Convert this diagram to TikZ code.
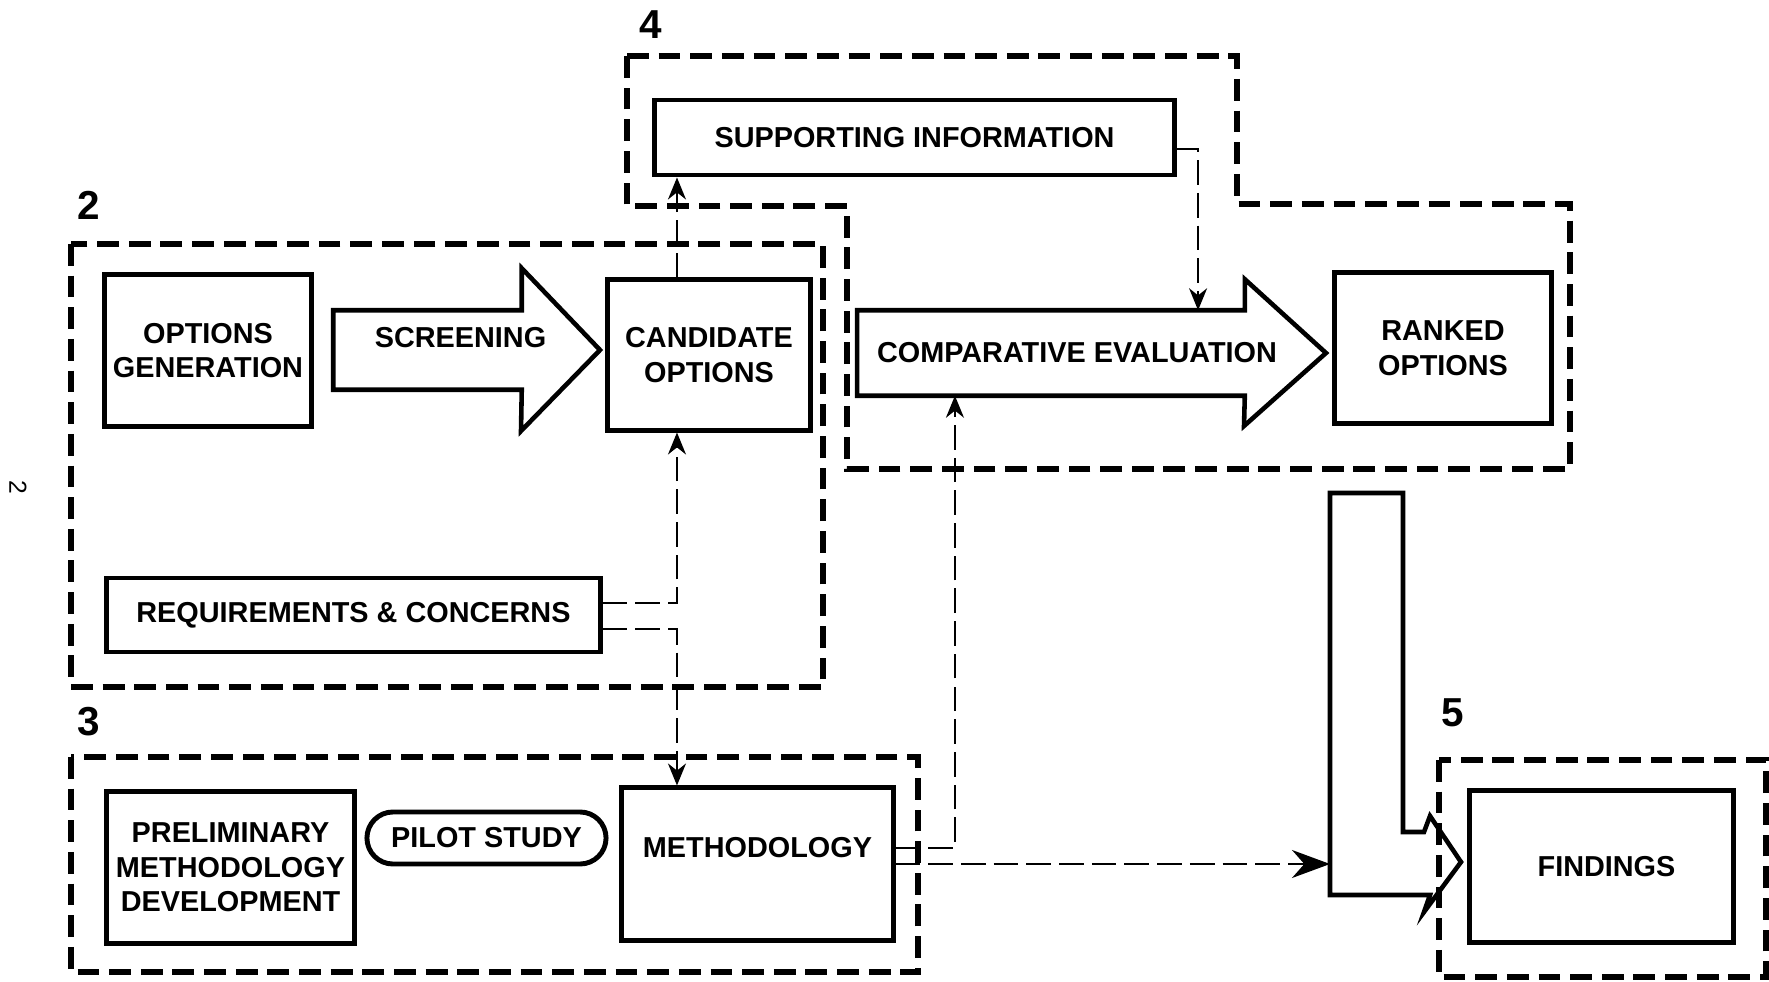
\documentclass[tikz,border=0pt]{standalone}
\usepackage{fontspec}
\setmainfont{Liberation Sans}
\usepackage{tikz}
\usetikzlibrary{arrows.meta}
\newcommand{\lblfont}{\bfseries\fontsize{8.2}{9.8}\selectfont}

\begin{document}
\begin{tikzpicture}[x=0.01cm, y=-0.01cm,
		box/.style={draw, line width=1.4pt, inner sep=0pt, align=center, font=\lblfont},
		body/.style={inner sep=0pt},
		outl/.style={line width=1.3pt, line join=miter},
		grp/.style={line width=1.7pt, dash pattern=on 6.2pt off 2.8pt},
		conn/.style={line width=0.6pt, dash pattern=on 7pt off 2.3pt, -{Stealth[length=2.2mm, width=1.8mm]}},
		num/.style={font=\bfseries\fontsize{11.5}{11.5}\selectfont},
		every label/.style={font=\lblfont}]
	\useasboundingbox (0,0) rectangle (1769,982);
	
	% 分组虚线框
	\draw[grp] (71,244) rectangle (823,687);
	\draw[grp] (71,757) rectangle (918,972);
	\draw[grp] (627,56) -- (1237,56) -- (1237,204) -- (1570,204) -- (1570,469) -- (847,469) -- (847,206) -- (627,206) -- cycle;
	\draw[grp] (1439,760) rectangle (1766,977);
	
	% 编号
	\node[num] (n2) at (89,205) {2};
	\node[num] (n3) at (89,722) {3};
	\node[num] (n4) at (651,25) {4};
	\node[num] (n5) at (1453,713) {5};
	\node[rotate=-90, font=\fontsize{7}{7}\selectfont] (pg) at (18,487) {2};
	
	% 方框
	\node[box, minimum width=2.06cm, minimum height=1.51cm] (opt) at (208,350.5) {OPTIONS\\GENERATION};
	\node[box, minimum width=2.02cm, minimum height=1.50cm] (cand) at (709,355) {CANDIDATE\\OPTIONS};
	\node[box, minimum width=4.93cm, minimum height=0.74cm] (req) at (353.5,615) {REQUIREMENTS \& CONCERNS};
	\node[box, minimum width=5.19cm, minimum height=0.75cm] (sup) at (914.5,137.5) {SUPPORTING INFORMATION};
	\node[box, minimum width=2.16cm, minimum height=1.50cm] (rank) at (1443,348) {RANKED\\OPTIONS};
	\node[box, minimum width=2.47cm, minimum height=1.51cm] (prelim) at (230.5,867.5) {PRELIMINARY\\METHODOLOGY\\DEVELOPMENT};
	\node[box, rounded corners=0.26cm, minimum width=2.39cm, minimum height=0.52cm] (pilot) at (486.5,838) {PILOT STUDY};
	\node[box, minimum width=2.71cm, minimum height=1.52cm, label={[yshift=1.6mm]center:METHODOLOGY}] (meth) at (757.5,864) {};
	\node[box, minimum width=2.63cm, minimum height=1.51cm, label={[xshift=0.5mm]center:FINDINGS}] (find) at (1601.5,866.5) {};
	
	% 大箭头
	\node[body, minimum width=1.87cm, minimum height=0.78cm, label={[xshift=3.3mm, yshift=1.2mm]center:SCREENING}] (screen) at (427.5,350) {};
	\draw[outl] (screen.south west) -- (screen.north west) -- (screen.north east) -- ++(0,-42) -- (600,350) -- (521,431) -- (screen.south east) -- cycle;
	\node[body, minimum width=3.86cm, minimum height=0.84cm, label={[xshift=2.6mm]center:COMPARATIVE EVALUATION}] (comp) at (1051,353) {};
	\draw[outl] (comp.south west) -- (comp.north west) -- (comp.north east) -- ++(0,-31) -- (1326,353) -- (1244,426) -- (comp.south east) -- cycle;
	\draw[outl] (1330,493) -- (1403,493) -- (1403,832) -- (1424,832) -- (1430,816) -- (1461,862) -- (1424,912) -- (1430,895) -- (1330,895) -- cycle;
	\coordinate (ljoin) at (1330,864);
	
	% 虚线连接
	\coordinate (vline) at ([xshift=-3.2mm]cand.north);
	\coordinate (vright) at ([xshift=14.7mm]comp.north);
	\draw[conn] (vline) -- (vline |- sup.south);
	\draw[conn] ([yshift=-1.15mm]sup.east) -| (vright);
	\draw[conn] ([yshift=1.2mm]req.east) -| (vline |- cand.south);
	\draw[conn] ([yshift=-1.4mm]req.east) -| (vline |- meth.north);
	\draw[conn] ([yshift=1.6mm]meth.east) -| ([xshift=-9.6mm]comp.south);
	\draw[conn, -{Stealth[length=3.8mm, width=2.8mm]}] (meth.east) -- (ljoin);
\end{tikzpicture}
\end{document}
